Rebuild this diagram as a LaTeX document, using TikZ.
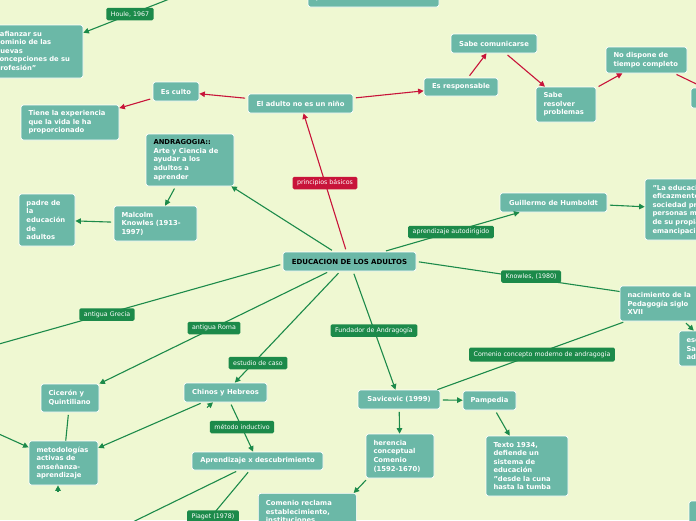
\documentclass[tikz,border=0pt]{standalone}
\usepackage{fontspec}
\setmainfont{DejaVu Sans}
\usetikzlibrary{arrows.meta}
\definecolor{bgc}{HTML}{EFF8D2}
\definecolor{tealn}{HTML}{6BB8A7}
\definecolor{grn}{HTML}{1C8A4A}
\definecolor{redl}{HTML}{C8143A}
\tikzset{
 box/.style={draw=white, line width=0.7pt, fill=tealn, rounded corners=2.5pt, text=white,
   font=\fontsize{6.8}{8.6}\selectfont\bfseries, inner xsep=4pt, inner ysep=2pt, align=center},
 mbox/.style={box, align=left, inner xsep=7.5pt},
 lab/.style={fill=grn, text=white, rounded corners=1.5pt, font=\fontsize{6.3}{7.5}\selectfont,
   inner xsep=4.5pt, inner ysep=0pt, minimum height=12.5pt},
 redlab/.style={lab, fill=redl},
 gline/.style={draw=grn, line width=1.1pt, shorten <=2.5pt},
 garrow/.style={gline, -{Triangle[length=5.5pt,width=5.5pt]}},
 rarrow/.style={draw=redl, line width=1.1pt, shorten <=2.5pt, -{Triangle[length=5.5pt,width=5.5pt]}},
}
\begin{document}
\begin{tikzpicture}[x=1pt,y=-1pt]
\useasboundingbox (0,0) rectangle (696,520);
\clip (0,0) rectangle (696,520);
\fill[bgc] (0,0) rectangle (696,520);

% ---------- nodes ----------
\node[mbox, text width=80pt, minimum height=53pt] (afz) at (35.5,51.5)
  {\mbox{"afianzar su}\\\mbox{dominio de las}\\\mbox{nuevas}\\\mbox{concepciones de su}\\\mbox{profesión"}};
\node[mbox, text width=116pt, minimum height=19pt] (prof) at (373.5,-2.5) {\mbox{profesionales.}};
\node[box, minimum width=46pt, minimum height=19pt] (escu) at (176,91.5) {Es culto};
\node[mbox, text width=83pt, minimum height=35pt] (tiene) at (70,122.5)
  {\mbox{Tiene la experiencia}\\\mbox{que la vida le ha}\\\mbox{proporcionado}};
\node[box, minimum width=105pt, minimum height=19pt] (adul) at (300.5,103.5) {El adulto no es un niño};
\node[box, minimum width=74pt, minimum height=18pt] (resp) at (461,87) {Es responsable};
\node[box, minimum width=86pt, minimum height=19pt] (comu) at (494,43.5) {Sabe comunicarse};
\node[mbox, text width=45pt, minimum height=35pt] (reso) at (566,104.5)
  {\mbox{Sabe}\\\mbox{resolver}\\\mbox{problemas}};
\node[mbox, text width=66pt, minimum height=26pt] (nodi) at (646.5,60)
  {\mbox{No dispone de}\\\mbox{tiempo completo}};
\node[box, minimum width=69pt, minimum height=20pt] (rr) at (725.5,98) {};
\node[mbox, text width=73pt, minimum height=52pt] (andr) at (190,160)
  {\mbox{\color{black}ANDRAGOGIA::}\\\mbox{Arte y Ciencia de}\\\mbox{ayudar a los}\\\mbox{adultos a}\\\mbox{aprender}};
\node[mbox, text width=68pt, minimum height=35pt] (malc) at (155.5,223.5)
  {\mbox{Malcolm}\\\mbox{Knowles (1913-}\\\mbox{1997)}};
\node[mbox, text width=41pt, minimum height=52pt] (padre) at (47,220)
  {\mbox{padre de}\\\mbox{la}\\\mbox{educación}\\\mbox{de}\\\mbox{adultos}};
\node[box, minimum width=133pt, minimum height=19pt, text=black,
  font=\fontsize{7}{8.6}\selectfont\bfseries] (edu) at (349.5,261.5) {EDUCACION DE LOS ADULTOS};
\node[box, minimum width=107pt, minimum height=19pt] (guil) at (553.5,202.5) {Guillermo de Humboldt};
\node[mbox, text width=100pt, minimum height=61pt] (lae) at (702.5,209.5)
  {\mbox{"La educación forma}\\\mbox{eficazmente a la}\\\mbox{sociedad preparando}\\\mbox{personas más libres}\\\mbox{de su propia}\\\mbox{emancipación"}};
\node[mbox, text width=77pt, minimum height=35pt] (naci) at (666,303.5)
  {\mbox{nacimiento de la}\\\mbox{Pedagogía siglo}\\\mbox{XVII}};
\node[mbox, text width=51pt, minimum height=35pt] (esa) at (712,348.5)
  {\mbox{escuelas}\\\mbox{Sabatinas}\\\mbox{adultos}};
\node[box, minimum width=82pt, minimum height=19pt] (savi) at (399,399.5) {Savicevic (1999)};
\node[box, minimum width=53pt, minimum height=19pt] (pamp) at (489.5,400.5) {Pampedia};
\node[mbox, text width=67pt, minimum height=60pt, font=\fontsize{6.8}{8.45}\selectfont\bfseries] (texto) at (527,466)
  {\mbox{Texto 1934,}\\\mbox{defiende un}\\\mbox{sistema de}\\\mbox{educación}\\\mbox{"desde la cuna}\\\mbox{hasta la tumba}};
\node[mbox, text width=53pt, minimum height=44pt] (here) at (400,456)
  {\mbox{herencia}\\\mbox{conceptual}\\\mbox{Comenio}\\\mbox{(1592-1670)}};
\node[mbox, text width=83pt, inner ysep=7pt, anchor=north west] (comr) at (258,493)
  {\mbox{Comenio reclama}\\\mbox{establecimiento,}\\\mbox{instituciones}};
\node[box, minimum width=83pt, minimum height=19pt] (chin) at (225.5,392.5) {Chinos y Hebreos};
\node[box, minimum width=131pt, minimum height=18pt] (apre) at (257.5,461) {Aprendizaje x descubrimiento};
\node[mbox, text width=43pt, minimum height=28pt] (cice) at (70,398)
  {\mbox{Cicerón y}\\\mbox{Quintiliano}};
\node[mbox, text width=54pt, minimum height=44pt] (meto) at (63.5,463)
  {\mbox{metodologías}\\\mbox{activas de}\\\mbox{enseñanza-}\\\mbox{aprendizaje}};
\node[box, minimum width=71pt, minimum height=39pt] (br) at (724.5,520.5) {};

% free ends
\coordinate (hou0) at (200,-13);
\coordinate (gre0) at (-40,355);
\coordinate (left0) at (-30,421);
\coordinate (apre0) at (100,538);
\coordinate (apre1) at (200,530);
\coordinate (tipa) at (207,407.5);
\coordinate (tipb) at (58,492);

% ---------- connectors ----------
\draw[garrow] (hou0) -- (afz);
\draw[rarrow] (adul) -- (escu);
\draw[rarrow] (escu) -- (tiene);
\draw[rarrow] (adul) -- (resp);
\draw[rarrow] (resp) -- (comu);
\draw[rarrow] (comu) -- (reso);
\draw[rarrow] (reso) -- (nodi);
\draw[rarrow] (nodi) -- (rr);
\draw[rarrow] (edu) -- (adul);
\draw[garrow] (edu) -- (andr);
\draw[garrow] (andr) -- (malc);
\draw[garrow] (malc) -- (padre);
\draw[garrow] (edu) -- (guil);
\draw[garrow] (guil) -- (lae);
\draw[gline] (edu.east) -- ([yshift=12pt]naci.west);
\draw[garrow] (naci) -- (esa);
\draw[gline] ([xshift=6pt]naci.south west) -- ([xshift=-3pt]savi.north east);
\draw[garrow] (edu) -- (savi);
\draw[garrow] (savi) -- (pamp);
\draw[garrow] (pamp) -- (texto);
\draw[garrow] (savi) -- (here);
\draw[garrow] ([xshift=2pt]here.south west) -- ([xshift=-3pt]comr.north east);
\draw[garrow] (edu) -- (chin);
\draw[garrow] (chin) -- (apre);
\draw[garrow] (edu) -- (cice);
\draw[gline] (cice) -- (meto);
\draw[garrow] (chin) -- (meto);
\draw[garrow] (left0) -- (meto);
\draw[gline] ([yshift=-2.5pt]edu.west) -- (gre0);
\draw[gline] (apre) -- (apre0);
\draw[gline] (apre) -- (apre1);
\draw[garrow, shorten <=0pt] (tipa) -- ([xshift=-12.5pt]chin.south);
\draw[garrow, shorten <=0pt] (tipb) -- ([xshift=-5.5pt]meto.south);

% ---------- labels ----------
\node[lab] (lhou) at (130,14) {Houle, 1967};
\node[redlab] (lpri) at (325,183) {principios básicos};
\node[lab] (laut) at (451,232) {aprendizaje autodirigido};
\node[lab] (lkno) at (531,276.5) {Knowles, (1980)};
\node[lab] (lgre) at (107,314.5) {antigua Grecia};
\node[lab] (lrom) at (214,328) {antigua Roma};
\node[lab] (lest) at (258,363) {estudio de caso};
\node[lab] (lmet) at (242,427) {método inductivo};
\node[lab] (lfun) at (374,330.5) {Fundador de Andragogía};
\node[lab, minimum height=14pt] (lcom) at (542,354.5) {Comenio concepto moderno de andragogía};
\node[lab] (lpia) at (213,516.5) {Piaget (1978)};
\end{tikzpicture}
\end{document}
